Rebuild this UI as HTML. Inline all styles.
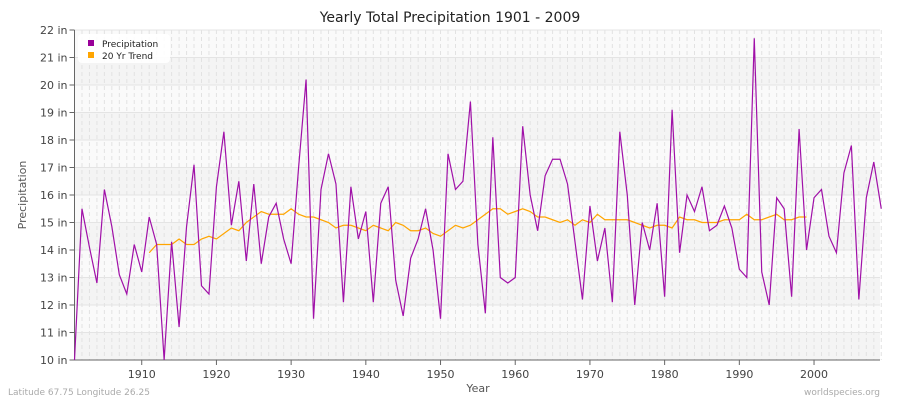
<!DOCTYPE html>
<html><head><meta charset="utf-8"><style>
body{margin:0;background:#fff;font-family:"Liberation Sans",sans-serif;}
svg text{font-family:"DejaVu Sans","Liberation Sans",sans-serif;}
</style></head><body>
<svg id="chart" width="900" height="400" viewBox="0 0 900 400" xmlns="http://www.w3.org/2000/svg">
<text x="450" y="22" text-anchor="middle" font-size="14" fill="#222">Yearly Total Precipitation 1901 - 2009</text>
<g id="bands"></g><g id="grid"></g><g id="axes"></g>
<polyline id="trend" fill="none" stroke="#ffa500" stroke-width="1.2"/>
<polyline id="precip" fill="none" stroke="#a010a8" stroke-width="1.2"/>
<g>
<rect x="78" y="34" width="92" height="29" rx="4" fill="#fff" opacity="0.9"/>
<rect x="88" y="40" width="6" height="6" fill="#990099"/>
<text x="102" y="47" font-size="9" fill="#222">Precipitation</text>
<rect x="88" y="52" width="6" height="6" fill="#ffa500"/>
<text x="102" y="59" font-size="9" fill="#222">20 Yr Trend</text>
</g>
<text x="478" y="392" text-anchor="middle" font-size="11" fill="#555">Year</text>
<text transform="translate(26,195) rotate(-90)" text-anchor="middle" font-size="11" fill="#555">Precipitation</text>
<text x="8" y="395" font-size="9" fill="#aaa">Latitude 67.75 Longitude 26.25</text>
<text x="880" y="395" text-anchor="end" font-size="9" fill="#aaa">worldspecies.org</text>
</svg>
<script>
const precipYears=[1901,2009];
const precipValues=[10.0,15.5,14.1,12.8,16.2,14.85,13.1,12.4,14.2,13.2,15.2,14.2,10.0,14.3,11.2,14.85,17.1,12.7,12.4,16.3,18.3,14.9,16.5,13.6,16.4,13.5,15.2,15.7,14.4,13.5,17.0,20.2,11.5,16.2,17.5,16.4,12.1,16.3,14.4,15.4,12.1,15.7,16.3,12.9,11.6,13.7,14.4,15.5,14.0,11.5,17.5,16.2,16.5,19.4,14.2,11.7,18.1,13.0,12.8,13.0,18.5,16.0,14.7,16.7,17.3,17.3,16.4,14.3,12.2,15.6,13.6,14.8,12.1,18.3,16.0,12.0,15.0,14.0,15.7,12.3,19.1,13.9,16.0,15.4,16.3,14.7,14.9,15.6,14.8,13.3,13.0,21.7,13.2,12.0,15.9,15.5,12.3,18.4,14.0,15.9,16.2,14.5,13.9,16.8,17.8,12.2,15.9,17.2,15.5];
const trendStart=1911;
const trendValues=[13.9,14.2,14.2,14.2,14.4,14.2,14.2,14.4,14.5,14.4,14.6,14.8,14.7,15.0,15.2,15.4,15.3,15.3,15.3,15.5,15.3,15.2,15.2,15.1,15.0,14.8,14.9,14.9,14.8,14.7,14.9,14.8,14.7,15.0,14.9,14.7,14.7,14.8,14.6,14.5,14.7,14.9,14.8,14.9,15.1,15.3,15.5,15.5,15.3,15.4,15.5,15.4,15.2,15.2,15.1,15.0,15.1,14.9,15.1,15.0,15.3,15.1,15.1,15.1,15.1,15.0,14.9,14.8,14.9,14.9,14.8,15.2,15.1,15.1,15.0,15.0,15.0,15.1,15.1,15.1,15.3,15.1,15.1,15.2,15.3,15.1,15.1,15.2,15.2];
const yTicks=[10,11,12,13,14,15,16,17,18,19,20,21,22];
const xTicks=[1910,1920,1930,1940,1950,1960,1970,1980,1990,2000];
const NS='http://www.w3.org/2000/svg';
const X0=74.5,X1=880,Y0=360,Y1=30;
function xs(y){return X0+(y-1901)*7.47;}
function ys(v){return Y0-(v-10)*(Y0-Y1)/12;}
function mk(t,a,p){const e=document.createElementNS(NS,t);for(const k in a)e.setAttribute(k,a[k]);document.getElementById(p).appendChild(e);return e;}
for(let i=0;i<yTicks.length-1;i++){
 const r=mk('rect',{x:X0,y:ys(yTicks[i+1]),width:X1-X0,height:ys(yTicks[i])-ys(yTicks[i+1]),fill:i%2==0?'#f4f4f4':'#fafafa'},'bands');
 
 
}
for(let y=1902;y<=2009;y++){
 const l=mk('line',{x1:xs(y),x2:xs(y),y1:Y1,y2:Y0,stroke:'#e2e2e2','stroke-dasharray':'4,3'},'grid');
 
 
}
yTicks.forEach(v=>{
 const l=mk('line',{x1:X0,x2:X1,y1:ys(v),y2:ys(v),stroke:'#e4e4e4'},'grid');
 
 
 const tk=mk('line',{x1:X0-5,x2:X0,y1:ys(v),y2:ys(v),stroke:'#666'},'axes');
 
 
 const t=mk('text',{x:X0-7,y:ys(v)+4,'text-anchor':'end','font-size':'11',fill:'#444'},'axes');
 
 
 t.textContent=v+' in';
});
xTicks.forEach(v=>{
 const tk=mk('line',{x1:xs(v),x2:xs(v),y1:Y0,y2:Y0+5,stroke:'#666'},'axes');
 
 
 const t=mk('text',{x:xs(v),y:Y0+18,'text-anchor':'middle','font-size':'11',fill:'#444'},'axes');
 
 
 t.textContent=v;
});
const ax=mk('path',{d:`M${X0},${Y1}V${Y0}H${X1}`,fill:'none',stroke:'#666'},'axes');


document.getElementById('precip').setAttribute('points',precipValues.map((v,i)=>xs(precipYears[0]+i)+','+ys(v)).join(' '));
document.getElementById('trend').setAttribute('points',trendValues.map((v,i)=>xs(trendStart+i)+','+ys(v)).join(' '));
</script>
</body></html>
